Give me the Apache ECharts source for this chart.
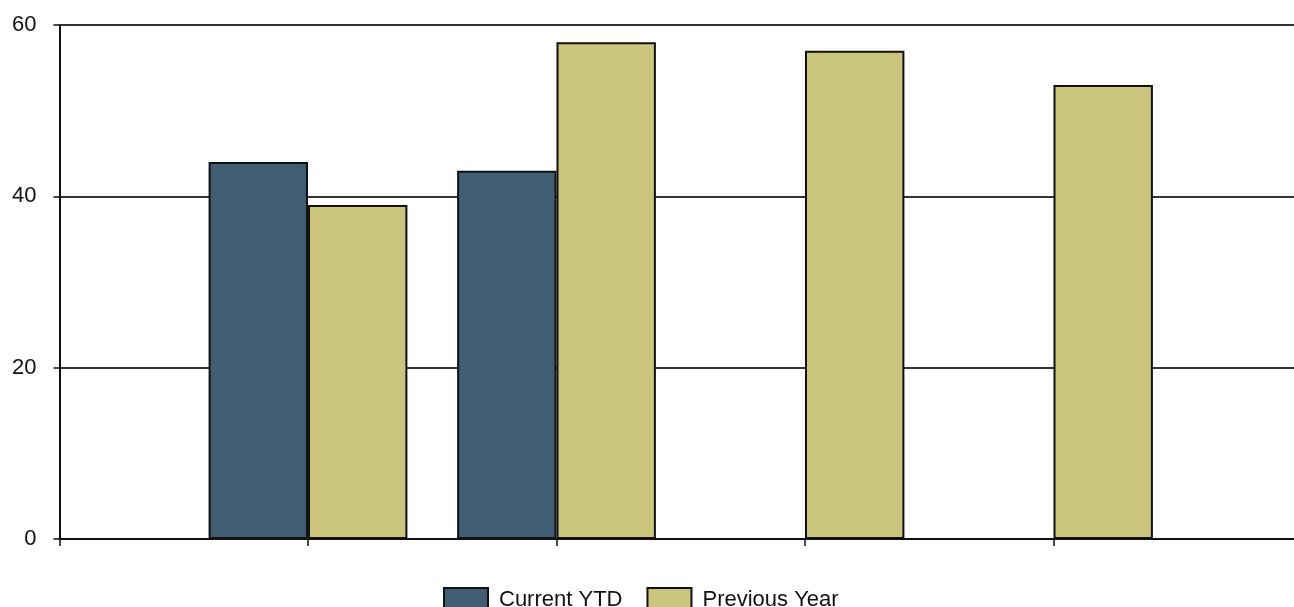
<!DOCTYPE html>
<html>
<head>
<meta charset="utf-8">
<title>Current YTD vs Previous Year</title>
<script src="https://cdn.jsdelivr.net/npm/echarts@6/dist/echarts.min.js"></script>
<style>
  html, body { margin: 0; padding: 0; background: #fff; }
  #chart { width: 1294px; height: 607px; }
</style>
</head>
<body>
<div id="chart"></div>
<script>
// Period slots along the x axis (labels are not shown on the axis)
const categories = ['P0', 'P1', 'P2', 'P3', 'P4', 'P5'];
const seriesNames = ['Current YTD', 'Previous Year'];
const currentYTD = [null, 44, 43, null, null, null];
const previousYear = [null, 39, 58, 57, 53, null];
const yTicks = { min: 0, max: 60, interval: 20 };

const FONT = '"Liberation Sans", Arial, sans-serif';
const chart = echarts.init(document.getElementById('chart'), null, { renderer: 'canvas' });

const barStyle = (color) => ({ color: color, borderColor: '#111', borderWidth: 2 });

chart.setOption({
  animation: false,
  backgroundColor: '#ffffff',
  textStyle: { fontFamily: FONT },
  // the plot runs a little past the right edge of the canvas
  grid: { left: 59.5, top: 25, bottom: 68, right: -8, containLabel: false, outerBoundsMode: 'none' },
  legend: {
    data: seriesNames,
    top: 582,
    left: 438,
    itemWidth: 44,
    itemHeight: 24,
    itemGap: 24,
    icon: 'rect',
    textStyle: { fontFamily: FONT, fontSize: 22, color: '#111', padding: [5, 0, 0, 6] }
  },
  xAxis: {
    type: 'category',
    data: categories,
    boundaryGap: false,
    axisLine: { show: true, lineStyle: { color: '#111', width: 2 } },
    axisTick: { show: true, length: 7, lineStyle: { color: '#111', width: 1.5 } },
    axisLabel: { show: false },
    splitLine: { show: false }
  },
  yAxis: {
    type: 'value',
    min: yTicks.min,
    max: yTicks.max,
    interval: yTicks.interval,
    axisLine: { show: true, lineStyle: { color: '#111', width: 2 } },
    axisTick: { show: true, length: 6, lineStyle: { color: '#111', width: 1.5 } },
    axisLabel: { margin: 23, fontFamily: FONT, fontSize: 22, color: '#111', padding: [3, 0, 0, 0] },
    splitLine: { show: true, lineStyle: { color: '#333', width: 2 } }
  },
  series: [
    {
      name: seriesNames[0],
      type: 'bar',
      data: currentYTD,
      barGap: '0%',
      barCategoryGap: '20%',
      itemStyle: barStyle('#405e73')
    },
    {
      name: seriesNames[1],
      type: 'bar',
      data: previousYear,
      barGap: '0%',
      barCategoryGap: '20%',
      itemStyle: barStyle('#cbc47c')
    }
  ]
});
</script>
</body>
</html>
